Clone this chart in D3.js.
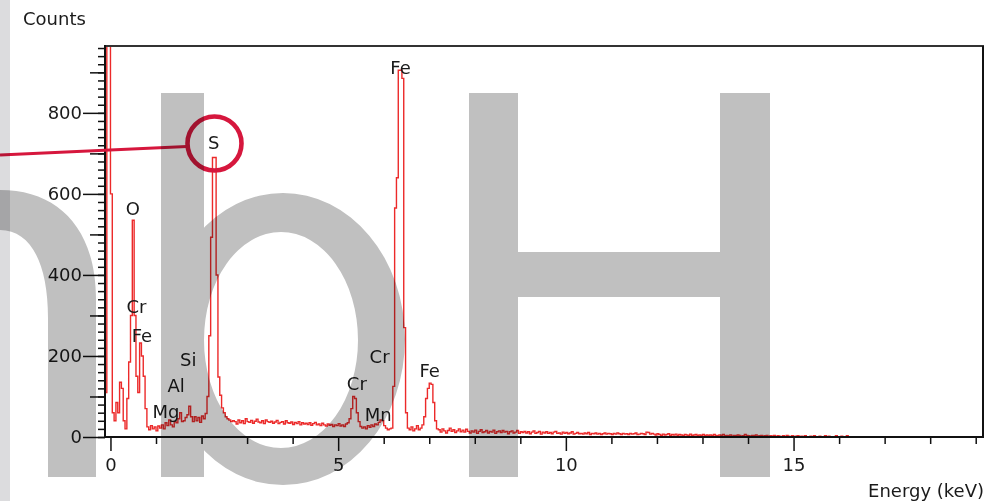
<!DOCTYPE html>
<html>
<head>
<meta charset="utf-8">
<script src="https://cdn.jsdelivr.net/npm/d3@7"></script>
<style>
  html, body { margin: 0; padding: 0; background: #fff; }
  svg { display: block; font-family: "DejaVu Sans", sans-serif; }
</style>
</head>
<body>
<svg id="chart" width="998" height="501"></svg>
<script>
// EDS spectrum: channel calibration (keV) and counts per channel
const channelStartKeV = -0.12;
const channelWidthKeV = 0.04;
const counts = [
  110, 1100, 1100, 600, 60, 40, 85, 60, 135, 120, 40, 20, 95, 185, 300, 535, 300, 150, 110, 232, 200, 150, 70, 25,
  18, 28, 20, 25, 15, 27, 22, 30, 20, 35, 28, 42, 30, 25, 38, 35, 45, 60, 38, 40, 48, 55, 76, 50, 38, 50, 40, 48, 36, 52, 45, 58,
  100, 250, 493, 690, 690, 400, 148, 103, 72, 60, 50, 45, 42, 38, 40,
  38, 32, 42, 35, 40, 33, 45, 38, 36, 41, 34, 39, 44, 37, 35, 40, 33, 42, 38, 36,
  39, 34, 37, 41, 33, 36, 38, 32, 40, 35, 34, 37, 31, 36, 33, 38, 30, 35, 32, 34,
  31, 35, 29, 33, 36, 30, 32, 28, 34, 30, 27, 32, 29, 31, 26, 30, 28, 33,
  27, 30, 26, 32,
  35, 45, 70, 100, 95, 60, 38, 26,
  22, 25, 20, 28, 24, 30, 26, 32, 30, 36,
  42, 40, 28, 22, 18, 20, 22,
  125, 565, 640, 905, 905, 885, 270, 60,
  22, 18, 25, 15, 20, 28, 18, 22, 30,
  50, 95, 120, 133, 130, 85, 40, 20,
  18, 12, 20, 15, 10, 16, 22, 14, 18, 11, 15, 20, 13, 17, 12, 19, 14, 10,
  15, 12, 17, 9, 14, 18, 11, 13, 16, 10, 14, 12, 17, 9, 13, 15, 11, 16, 12, 14, 8, 13, 15, 10, 12, 16, 9, 13, 11, 14,
  10, 13, 8, 12, 15, 9, 11, 14, 7, 12, 10, 13, 9, 11, 8, 12, 14, 9, 10, 7, 12, 9, 11, 8, 10, 13, 7, 9, 11, 8,
  9, 7, 10, 8, 11, 6, 9, 8, 10, 7, 9, 6, 8, 10, 7, 9, 8, 6, 9, 7, 10, 8, 6, 9, 7, 8, 6, 9, 7, 8, 10, 6, 7, 9, 8, 6, 12, 11, 7, 9,
  7, 5, 8, 6, 4, 7, 5, 6, 8, 4, 6, 5, 7, 4, 6, 5, 3, 6, 5, 4, 7, 4, 5, 6, 3, 5, 4, 6, 3, 5, 4, 5, 3, 6, 4, 3, 5, 4, 6, 3,
  4, 3, 5, 2, 4, 3, 5, 4, 2, 3, 6, 4, 3, 2, 4, 3, 5, 2, 3, 4, 2, 3, 4, 0, 3, 2, 4, 0, 3, 2, 0, 3, 0, 4, 2, 0, 3, 0, 2, 3,
  0, 2, 0, 3, 0, 0, 2, 0, 3, 0, 0, 2, 0, 0, 3, 0, 2, 0, 0, 0, 3, 0, 0, 2, 0, 0, 3, 0
];

// Element labels placed at (energy keV, counts level)
const peakNames  = ["O", "Cr", "Fe", "Si", "Al", "Mg", "S", "Fe", "Cr", "Cr", "Mn", "Fe"];
const peakKeV    = [0.49, 0.57, 0.69, 1.71, 1.44, 1.22, 2.27, 6.37, 5.91, 5.41, 5.88, 7.01];
const peakLevel  = [548, 306, 234, 175, 111, 47, 711, 896, 183, 116, 40, 148];

// Axis ticks
const xMajorTicks = [0, 5, 10, 15];
const xMinorTicks = [1, 2, 3, 4, 6, 7, 8, 9, 11, 12, 13, 14, 16, 17, 18, 19];
const yLabelTicks = [0, 200, 400, 600, 800];
const yMidTicks = [100, 300, 500, 700, 900];
const yMinorTicks = d3.range(0, 961, 20);

const svg = d3.select("#chart");
const plotLeft = 105, plotRight = 983, plotTop = 46, plotBottom = 437;

const x = d3.scaleLinear().domain([-0.12, 19.16]).range([plotLeft, plotRight]);
const y = d3.scaleLinear().domain([0, 965]).range([plotBottom, plotTop]);

svg.append("rect").attr("width", 998).attr("height", 501).attr("fill", "#fff");

// Spectrum trace
svg.append("clipPath").attr("id", "plotClip")
  .append("rect").attr("x", plotLeft).attr("y", plotTop)
  .attr("width", plotRight - plotLeft).attr("height", plotBottom - plotTop);

const pts = counts.map((c, i) => [channelStartKeV + i * channelWidthKeV, c]);
pts.push([channelStartKeV + counts.length * channelWidthKeV, 0]);

const line = d3.line()
  .x(d => x(d[0]))
  .y(d => y(d[1]))
  .curve(d3.curveStepAfter);

svg.append("path")
  .datum(pts)
  .attr("clip-path", "url(#plotClip)")
  .attr("fill", "none")
  .attr("stroke", "#ec2a2a")
  .attr("stroke-width", 1.4)
  .attr("d", line);

// Axes
const textColor = "#1a1a1a";
function styleAxis(g) {
  g.select(".domain").remove();
  g.selectAll(".tick line").attr("stroke", "#111").attr("stroke-width", 1.5);
  g.selectAll(".tick text").attr("fill", textColor).attr("font-size", 18)
    .attr("font-family", "DejaVu Sans, sans-serif");
}

svg.append("g").attr("transform", `translate(${plotLeft},0)`)
  .call(d3.axisLeft(y).tickValues(yMinorTicks).tickSize(7).tickFormat(""))
  .call(styleAxis);
svg.append("g").attr("transform", `translate(${plotLeft},0)`)
  .call(d3.axisLeft(y).tickValues(yMidTicks).tickSize(15).tickFormat(""))
  .call(styleAxis);
svg.append("g").attr("transform", `translate(${plotLeft},0)`)
  .call(d3.axisLeft(y).tickValues(yLabelTicks).tickSize(22).tickPadding(1).tickFormat(d3.format("d")))
  .call(styleAxis);

svg.append("g").attr("transform", `translate(0,${plotBottom + 1})`)
  .call(d3.axisBottom(x).tickValues(xMinorTicks).tickSize(6).tickFormat(""))
  .call(styleAxis);
svg.append("g").attr("transform", `translate(0,${plotBottom + 1})`)
  .call(d3.axisBottom(x).tickValues(xMajorTicks).tickSize(13).tickPadding(7).tickFormat(d3.format("d")))
  .call(styleAxis);

// Frame
svg.append("line").attr("x1", plotLeft - 1).attr("x2", plotRight + 1).attr("y1", plotTop).attr("y2", plotTop)
  .attr("stroke", "#333").attr("stroke-width", 2);
svg.append("line").attr("x1", plotRight).attr("x2", plotRight).attr("y1", plotTop).attr("y2", plotBottom)
  .attr("stroke", "#111").attr("stroke-width", 2);
svg.append("line").attr("x1", plotLeft).attr("x2", plotLeft).attr("y1", plotTop - 1).attr("y2", plotBottom + 1)
  .attr("stroke", "#111").attr("stroke-width", 2);
svg.append("line").attr("x1", plotLeft - 1).attr("x2", plotRight + 1).attr("y1", plotBottom).attr("y2", plotBottom)
  .attr("stroke", "#111").attr("stroke-width", 2);

// Axis titles
svg.append("text").attr("x", 23).attr("y", 25).attr("font-size", 18).attr("fill", textColor)
  .text("Counts");
svg.append("text").attr("x", 984).attr("y", 497).attr("text-anchor", "end")
  .attr("font-size", 18).attr("fill", textColor).text("Energy (keV)");

// Element labels
svg.append("g").selectAll("text")
  .data(peakNames)
  .join("text")
  .attr("x", (d, i) => x(peakKeV[i]))
  .attr("y", (d, i) => y(peakLevel[i]))
  .attr("text-anchor", "middle")
  .attr("font-size", 18)
  .attr("fill", textColor)
  .text(d => d);

// Highlight on the sulphur peak
const mark = "#d6173d";
svg.append("line").attr("x1", 0).attr("y1", 155).attr("x2", 187).attr("y2", 146.5)
  .attr("stroke", mark).attr("stroke-width", 3.2);
svg.append("circle").attr("cx", 214.5).attr("cy", 143.5).attr("r", 27)
  .attr("fill", "none").attr("stroke", mark).attr("stroke-width", 4.6);

// Grey lettering laid over the chart
svg.append("rect").attr("x", 0).attr("y", 0).attr("width", 10).attr("height", 501)
  .attr("fill", "#dcdcde").style("mix-blend-mode", "multiply");

function ellipsePath(cx, cy, rx, ry) {
  return `M${cx - rx},${cy} A${rx},${ry} 0 1,0 ${cx + rx},${cy} A${rx},${ry} 0 1,0 ${cx - rx},${cy} Z `;
}

const wm = svg.append("g").attr("fill", "#c0c0c0").style("mix-blend-mode", "multiply");
wm.append("path").attr("d", "M0,190 C58,190 96,228 96,300 L96,477 L48,477 L48,318 C48,262 30,230 0,230 Z");
wm.append("rect").attr("x", 161).attr("y", 93).attr("width", 43).attr("height", 384);
wm.append("path").attr("fill-rule", "evenodd")
  .attr("d", ellipsePath(283, 339, 122, 146) + ellipsePath(281, 340, 77, 108));
wm.append("rect").attr("x", 469).attr("y", 93).attr("width", 49).attr("height", 384);
wm.append("rect").attr("x", 720).attr("y", 93).attr("width", 50).attr("height", 384);
wm.append("rect").attr("x", 517).attr("y", 252).attr("width", 204).attr("height", 45);
</script>
</body>
</html>
